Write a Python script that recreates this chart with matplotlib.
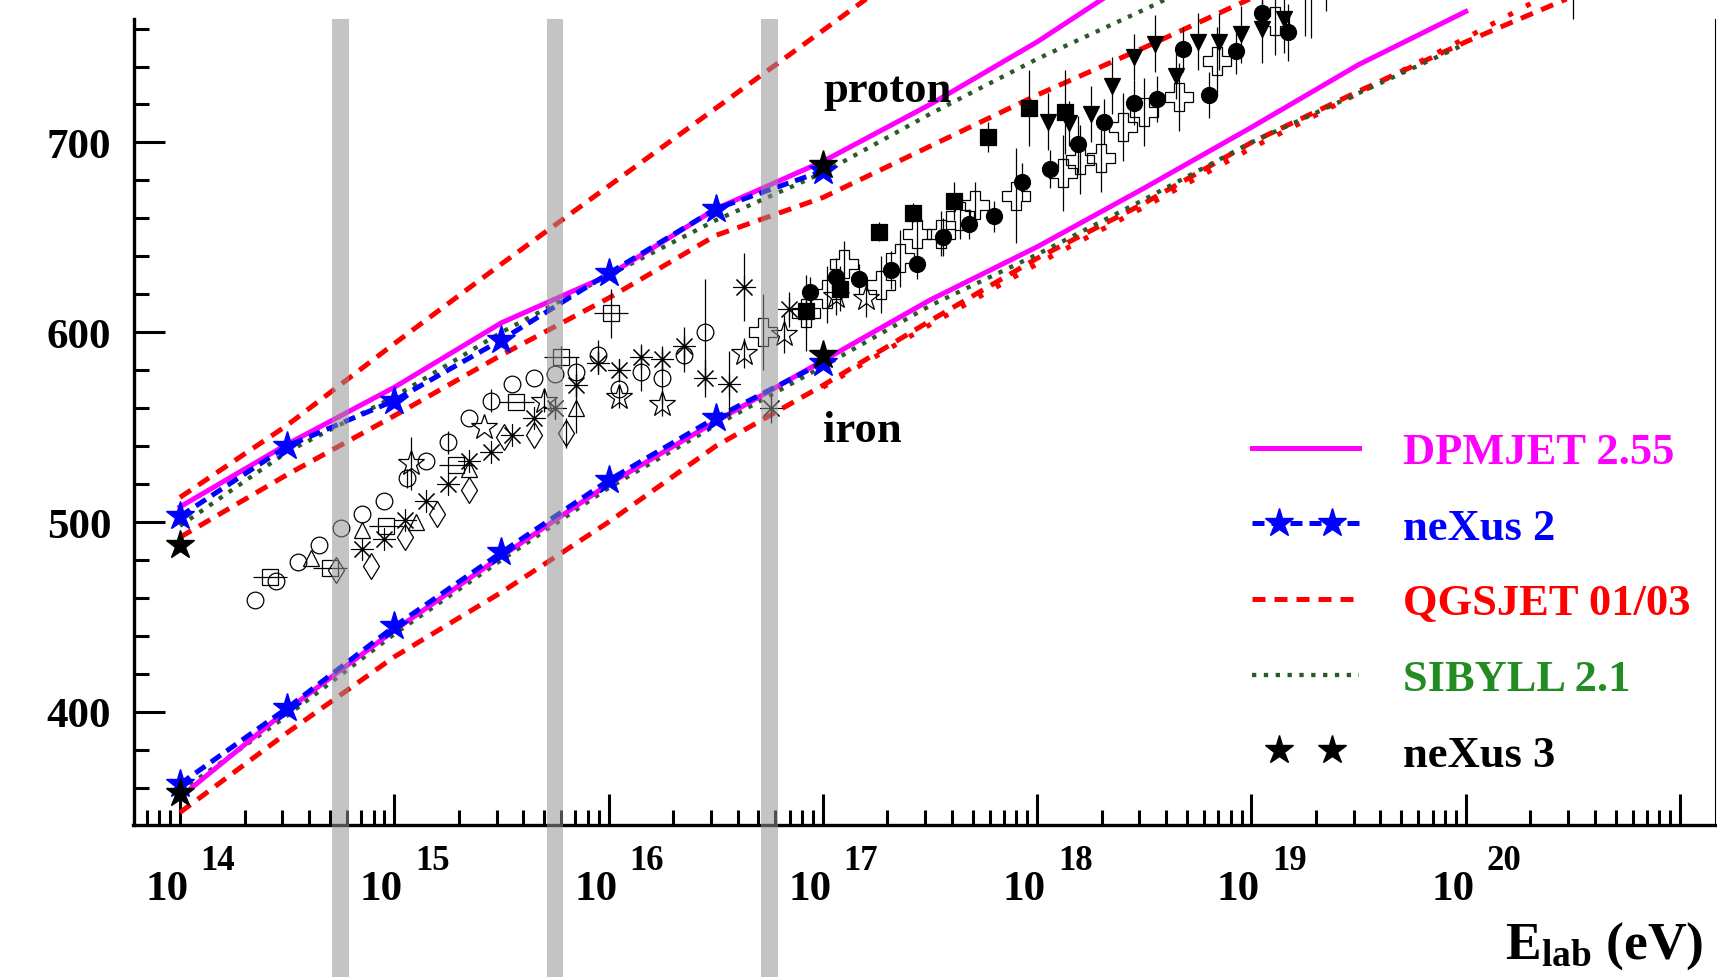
import numpy as np
import matplotlib
matplotlib.use('Agg')
import matplotlib.pyplot as plt
from matplotlib.ticker import LogLocator, MultipleLocator, NullFormatter
from matplotlib.legend_handler import HandlerLine2D, HandlerTuple
from matplotlib.lines import Line2D

plt.rcParams['font.family'] = ['Liberation Serif', 'DejaVu Serif']
plt.rcParams['font.weight'] = 'bold'
plt.rcParams['mathtext.fontset'] = 'custom'
plt.rcParams['mathtext.rm'] = 'Liberation Serif:bold'
plt.rcParams['mathtext.bf'] = 'Liberation Serif:bold'
plt.rcParams['mathtext.it'] = 'Liberation Serif:bold'

# ---------------- data (x values are log10(E/eV)) ----------------
half_dec_14_17 = [14, 14.5, 15, 15.5, 16, 16.5, 17]

dpm_p_lx = [14, 14.5, 15, 15.5, 16, 16.5, 17, 17.5, 18, 18.5]
dpm_p = [508, 541, 571, 605, 630, 665, 690, 720, 753, 790]
dpm_fe_lx = [14, 14.5, 15, 15.5, 16, 16.5, 17, 17.5, 18, 18.5, 19, 19.5, 20]
dpm_fe = [355, 401, 443, 482, 520, 553, 585, 617, 645, 676, 708, 741, 769]

nex2_p = [503, 540, 564, 596, 631, 665, 685]
nex2_fe = [362, 402, 445, 484, 522, 555, 584]

qgs_p_hi_lx = [14, 14.5, 15, 15.5, 16, 16.5, 17, 17.5]
qgs_p_hi = [513, 551, 594, 636, 677, 718, 759, 800]
qgs_p_lx = [14, 14.5, 15, 15.5, 16, 16.5, 17, 17.5, 18, 18.5, 19]
qgs_p = [492, 525, 556, 588, 618, 651, 671, 698, 725, 750, 776]
qgs_fe_lx = [14, 14.5, 15, 15.5, 16, 16.5, 17, 17.5, 18, 18.5, 19, 19.5, 20, 20.5]
qgs_fe = [347, 389, 429, 463, 500, 540, 572, 606, 639, 668, 700, 727, 753, 777]
qgs3_fe_lx = [17, 17.5, 18, 18.5, 19, 19.5, 20, 20.5]
qgs3_fe = [571, 604, 636, 666, 697, 726, 755, 785]

sib_p_lx = [14, 14.5, 15, 15.5, 16, 16.5, 17, 17.5, 18, 18.5, 19]
sib_p = [498, 537, 566, 600, 630, 659, 684, 715, 744, 770, 797]
sib_fe_lx = [14, 14.5, 15, 15.5, 16, 16.5, 17, 17.5, 18, 18.5, 19, 19.5, 20]
sib_fe = [358, 398, 441, 480, 518, 551, 582, 614, 641, 670, 700, 726, 752]

nex3_lx = [14, 17]
nex3_p = [488, 688]
nex3_fe = [357, 588]

# experimental points
circ_lx = [14.35, 14.45, 14.55, 14.65, 14.75, 14.85, 14.95, 15.06, 15.15, 15.25, 15.35,
           15.45, 15.55, 15.65, 15.75, 15.85, 15.95, 16.05, 16.15, 16.25, 16.35, 16.45]
circ_y = [459, 469, 479, 488, 497, 504, 511, 523, 532, 542, 555,
          564, 573, 576, 578, 579, 588, 570, 579, 576, 588, 600]
circ_err = [0, 0, 0, 0, 0, 0, 0, 5, 0, 6, 0, 6, 0, 0, 0, 8, 8, 0, 10, 14, 9, 28]

sq_lx = [14.42, 14.70, 14.96, 15.29, 15.57, 15.78, 16.01]
sq_y = [471, 476, 498, 530, 563, 587, 610]
sq_err = [0, 0, 0, 0, 0, 6, 13]
sq_xerr = [0.08, 0.08, 0.08, 0.08, 0.08, 0.08, 0.08]

tri_lx = [14.61, 14.85, 15.10, 15.35, 15.85]
tri_y = [481, 496, 500, 528, 560]
tri_err = [0, 0, 0, 0, 13]

dia_lx = [14.73, 14.89, 15.05, 15.20, 15.35, 15.51, 15.65, 15.80]
dia_y = [475, 477, 492, 504, 517, 545, 546, 547]
dia_err = [0, 0, 0, 0, 0, 0, 0, 8]

ast_lx = [14.85, 14.95, 15.05, 15.15, 15.25, 15.35, 15.45, 15.55, 15.65, 15.75, 15.85,
          15.95, 16.05, 16.15, 16.25, 16.35, 16.45, 16.56, 16.63, 16.76, 16.84]
ast_y = [486, 491, 501, 511, 520, 532, 537, 546, 555, 560, 572,
         584, 580, 587, 586, 593, 576, 573, 624, 560, 612]
ast_err = [0, 0, 0, 0, 0, 0, 0, 0, 0, 5, 6, 6, 6, 7, 7, 10, 10, 17, 18, 8, 9]

ost_lx = [15.08, 15.42, 15.70, 16.05, 16.25, 16.63, 16.82, 17.06, 17.20]
ost_y = [531, 550, 564, 566, 562, 589, 599, 619, 618]
ost_err = [14, 0, 6, 6, 6, 8, 10, 10, 10]

ocr_lx = [16.72, 16.92, 17.02, 17.10, 17.27, 17.36, 17.44, 17.55, 17.64, 17.71,
          17.90, 18.12, 18.20, 18.30, 18.40, 18.50, 18.66, 18.84, 19.11]
ocr_y = [600, 610, 620, 636, 625, 639, 652, 652, 661, 667,
         672, 684, 691, 692, 708, 716, 724, 743, 764]
ocr_err = [20, 20, 15, 12, 15, 15, 12, 12, 12, 12, 25, 20, 18, 18, 18, 18, 18, 18, 18]

fci_lx = [16.94, 17.06, 17.17, 17.32, 17.44, 17.56, 17.68, 17.80, 17.93, 18.06,
          18.19, 18.31, 18.45, 18.56, 18.68, 18.80, 18.93, 19.05, 19.17]
fci_y = [621, 629, 628, 633, 636, 650, 657, 661, 679, 686,
         699, 711, 721, 723, 749, 725, 748, 768, 758]
fci_err = [8, 10, 8, 10, 8, 10, 8, 8, 10, 10, 15, 12, 12, 12, 12, 12, 12, 12, 15]

fsq_lx = [16.92, 17.08, 17.26, 17.42, 17.61, 17.77, 17.96, 18.13]
fsq_y = [611, 623, 653, 663, 669, 703, 718, 716]
fsq_err = [10, 12, 5, 5, 10, 8, 20, 22]

fdt_lx = [18.05, 18.15, 18.25, 18.35, 18.45, 18.55, 18.65, 18.75, 18.85, 18.95, 19.05, 19.15]
fdt_y = [711, 710, 715, 730, 745, 752, 735, 753, 753, 757, 760, 765]
fdt_err = [15, 12, 15, 15, 12, 15, 12, 15, 15, 15, 18, 18]

top_lx = [19.25, 19.28, 19.35, 20.5]
top_y = [785, 790, 790, 795]
top_err = [29, 35, 21, 30]

gray_band_lx = [14.75, 15.75, 16.75]
xtick_exps = [14, 15, 16, 17, 18, 19, 20]
legend_labels = ['DPMJET 2.55', 'neXus 2', 'QGSJET 01/03', 'SIBYLL 2.1', 'neXus 3']

# ---------------- figure ----------------
W, H = 1717, 978
fig = plt.figure(figsize=(W / 100, H / 100), dpi=100)
ax = fig.add_axes([133.5 / W, 1 - 826 / H, (1715 - 133.5) / W, (826 - 19.7) / H])
ax.set_xscale('log')
ax.set_xlim(10 ** 13.783, 10 ** 21.163)
ax.set_ylim(340.4, 765.2)

MAG = '#ff00ff'
BLUE = '#0000ff'
RED = '#ff0000'
GRN_LINE = '#2a5a2a'
GRN_TEXT = '#228b22'

LW = 3.6
DPM_STYLE = dict(color=MAG, lw=LW)
NEX2_STYLE = dict(color=BLUE, lw=LW, dashes=(2.4, 1.4))
QGS_STYLE = dict(color=RED, lw=LW, dashes=(2.6, 1.8))
QGS3_STYLE = dict(color=RED, lw=LW, dashes=(1, 3.0))
SIB_STYLE = dict(color=GRN_LINE, lw=3.1, dashes=(1, 1.75))
STAR_MS = 21


def E(lx):
    return 10 ** np.asarray(lx, dtype=float)


# proton group
ax.plot(E(qgs_p_hi_lx), qgs_p_hi, clip_on=False, zorder=2, **QGS_STYLE)
ax.plot(E(qgs_p_lx), qgs_p, clip_on=False, zorder=2, **QGS_STYLE)
ax.plot(E(sib_p_lx), sib_p, clip_on=False, zorder=2, **SIB_STYLE)
ax.plot(E(dpm_p_lx), dpm_p, clip_on=False, zorder=2, **DPM_STYLE)
ax.plot(E(half_dec_14_17), nex2_p, marker='*', ms=STAR_MS, mec=BLUE, mfc=BLUE,
        clip_on=False, zorder=3, **NEX2_STYLE)
# iron group
ax.plot(E(qgs_fe_lx), qgs_fe, clip_on=False, zorder=2, **QGS_STYLE)
ax.plot(E(qgs3_fe_lx), qgs3_fe, clip_on=False, zorder=2, **QGS3_STYLE)
ax.plot(E(sib_fe_lx), sib_fe, clip_on=False, zorder=2, **SIB_STYLE)
ax.plot(E(dpm_fe_lx), dpm_fe, clip_on=False, zorder=2, **DPM_STYLE)
ax.plot(E(half_dec_14_17), nex2_fe, marker='*', ms=STAR_MS, mec=BLUE, mfc=BLUE,
        clip_on=False, zorder=3, **NEX2_STYLE)
# neXus 3
ax.plot(E(nex3_lx), nex3_p, ls='none', marker='*', ms=STAR_MS, color='black', clip_on=False, zorder=3.5)
ax.plot(E(nex3_lx), nex3_fe, ls='none', marker='*', ms=STAR_MS, color='black', clip_on=False, zorder=3.5)


def points(lx, y, err, marker, ms, filled, xe=None, mew=0.9):
    lx = np.asarray(lx, dtype=float)
    x = 10 ** lx
    xerr = None
    if xe is not None:
        xe = np.asarray(xe, dtype=float)
        xerr = [x - 10 ** (lx - xe), 10 ** (lx + xe) - x]
    cont = ax.errorbar(x, y, yerr=err, xerr=xerr, fmt='', marker=marker, linestyle='none', ms=ms,
                       mfc='black' if filled else 'none', mec='black', mew=mew,
                       ecolor='black', elinewidth=0.9, capsize=0, zorder=4)
    for art in cont.get_children():
        art.set_clip_on(False)


points(circ_lx, circ_y, circ_err, 'o', 12, False)
points(sq_lx, sq_y, sq_err, 's', 12, False, sq_xerr)
points(tri_lx, tri_y, tri_err, '^', 12, False)
points(dia_lx, dia_y, dia_err, 'd', 13.5, False)
points(ast_lx, ast_y, ast_err, (8, 2, 0), 16, False, mew=0.8)
points(ost_lx, ost_y, ost_err, '*', 19, False)
points(ocr_lx, ocr_y, ocr_err, 'P', 19.5, False)
points(fci_lx, fci_y, fci_err, 'o', 11.5, True)
points(fsq_lx, fsq_y, fsq_err, 's', 11.3, True)
points(fdt_lx, fdt_y, fdt_err, 'v', 11.5, True)
points(top_lx, top_y, top_err, 'o', 11.5, True)

# gray vertical bands
for c in gray_band_lx:
    ax.axvspan(10 ** (c - 0.039), 10 ** (c + 0.039), ymin=-0.25, ymax=1.0,
               color='#939393', alpha=0.545, lw=0, zorder=10, clip_on=False)

# axes styling
ax.spines['top'].set_visible(False)
ax.spines['right'].set_linewidth(0.8)
ax.spines['left'].set_linewidth(2.4)
ax.spines['bottom'].set_linewidth(2.4)

ax.xaxis.set_major_locator(LogLocator(base=10, numticks=30))
ax.xaxis.set_minor_locator(LogLocator(base=10, subs=np.arange(2, 10), numticks=30))
ax.xaxis.set_major_formatter(NullFormatter())
ax.xaxis.set_minor_formatter(NullFormatter())
ax.yaxis.set_major_locator(MultipleLocator(100))
ax.yaxis.set_minor_locator(MultipleLocator(20))
ax.tick_params(which='both', direction='in', top=False, right=False, width=2.2)
ax.tick_params(which='major', length=22.5)
ax.tick_params(which='minor', length=11)
ax.tick_params(axis='y', which='major', labelsize=31, pad=16)
for t in ax.get_yticklabels():
    t.set_fontweight('bold')

for d in xtick_exps:
    ax.annotate('10', xy=(10.0 ** d, 0), xycoords=('data', 'axes fraction'),
                xytext=(-13, -74), textcoords='offset pixels', ha='center', va='baseline',
                fontsize=31, fontweight='bold', annotation_clip=False)
    ax.annotate(str(d), xy=(10.0 ** d, 0), xycoords=('data', 'axes fraction'),
                xytext=(38, -44.5), textcoords='offset pixels', ha='center', va='baseline',
                fontsize=25, fontweight='bold', annotation_clip=False)

fig.text(1703 / W, 1 - 958.3 / H, r'E$_{\mathrm{lab}}$ (eV)', ha='right', va='baseline',
         fontsize=38.5, fontweight='bold')

fig.text(823.4 / W, 1 - 101.8 / H, 'proton', fontsize=32, fontweight='bold', va='baseline')
fig.text(823.4 / W, 1 - 442.4 / H, 'iron', fontsize=32, fontweight='bold', va='baseline')

# legend (proxy artists mirroring the plotted styles)
h_dpm = Line2D([], [], **DPM_STYLE)
h_nex2_line = Line2D([], [], **NEX2_STYLE)
h_nex2_mk = Line2D([], [], ls='none', marker='*', ms=STAR_MS, color=BLUE)
h_qgs = Line2D([], [], **QGS_STYLE)
h_sib = Line2D([], [], **SIB_STYLE)
h_nex3 = Line2D([], [], ls='none', marker='*', ms=STAR_MS, color='black')

hmap = {Line2D: HandlerLine2D(numpoints=2, marker_pad=0),
        h_nex2_mk: HandlerLine2D(numpoints=2, marker_pad=0.6),
        h_nex3: HandlerLine2D(numpoints=2, marker_pad=0.6),
        tuple: HandlerTuple(ndivide=1, pad=0)}

leg = ax.legend([h_dpm, (h_nex2_line, h_nex2_mk), h_qgs, h_sib, h_nex3], legend_labels,
                loc='upper left', bbox_to_anchor=(1252 / W, 1 - 433 / H),
                bbox_transform=fig.transFigure, frameon=False,
                prop=dict(family='Liberation Serif', weight='bold', size=32),
                handlelength=2.4, handletextpad=1.0, labelspacing=0.80,
                borderpad=0, borderaxespad=0, handler_map=hmap,
                labelcolor=[MAG, BLUE, RED, GRN_TEXT, 'black'])
leg.set_zorder(20)

fig.savefig('out.png', dpi=100)
